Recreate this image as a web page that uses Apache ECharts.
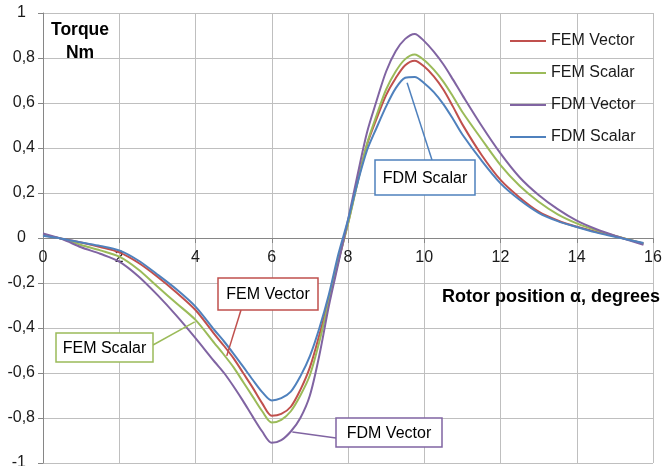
<!DOCTYPE html>
<html>
<head>
<meta charset="utf-8">
<script src="https://cdn.jsdelivr.net/npm/echarts@6/dist/echarts.min.js"></script>
<style>
html,body{margin:0;padding:0;background:#fff;}
#c{width:664px;height:466px;}
</style>
</head>
<body>
<div id="c"></div>
<script>
// Rotor position (degrees)
var positions = [0,0.5,1,1.5,2,2.5,3,3.5,4,4.5,4.75,5,5.25,5.5,5.75,6,6.25,6.5,6.75,7,7.25,7.5,7.75,8,8.25,8.5,8.75,9,9.25,9.5,9.75,10,10.25,10.5,10.75,11,11.5,12,12.5,13,13.5,14,14.5,15,15.75];
// Torque (Nm)
var femVector = [0.012,-0.003,-0.020,-0.040,-0.064,-0.110,-0.172,-0.242,-0.320,-0.428,-0.480,-0.535,-0.600,-0.665,-0.735,-0.790,-0.782,-0.750,-0.675,-0.575,-0.430,-0.270,-0.100,0.065,0.250,0.415,0.530,0.635,0.710,0.768,0.788,0.762,0.718,0.660,0.585,0.505,0.370,0.258,0.180,0.117,0.078,0.050,0.028,0.008,-0.024];
var femScalar = [0.015,-0.004,-0.031,-0.055,-0.083,-0.140,-0.216,-0.290,-0.364,-0.468,-0.520,-0.575,-0.640,-0.705,-0.770,-0.820,-0.808,-0.770,-0.700,-0.610,-0.460,-0.280,-0.100,0.062,0.245,0.420,0.545,0.660,0.740,0.795,0.816,0.790,0.748,0.695,0.630,0.560,0.440,0.324,0.232,0.161,0.105,0.065,0.035,0.010,-0.025];
var fdmVector = [0.020,-0.005,-0.041,-0.070,-0.105,-0.170,-0.253,-0.345,-0.445,-0.550,-0.600,-0.660,-0.725,-0.794,-0.860,-0.910,-0.898,-0.860,-0.800,-0.700,-0.520,-0.300,-0.110,0.080,0.280,0.470,0.610,0.740,0.830,0.885,0.907,0.875,0.828,0.772,0.705,0.635,0.500,0.376,0.270,0.191,0.128,0.077,0.040,0.010,-0.030];
var fdmScalar = [0.010,-0.003,-0.020,-0.035,-0.055,-0.100,-0.162,-0.228,-0.305,-0.410,-0.460,-0.515,-0.572,-0.630,-0.685,-0.722,-0.712,-0.683,-0.615,-0.525,-0.400,-0.250,-0.070,0.080,0.245,0.390,0.490,0.585,0.665,0.712,0.716,0.688,0.648,0.595,0.530,0.460,0.345,0.243,0.170,0.112,0.075,0.049,0.025,0.005,-0.022];

var seriesNames = ['FEM Vector','FEM Scalar','FDM Vector','FDM Scalar'];
var seriesColors = ['#c0504d','#9bbb59','#8064a2','#4f81bd'];
var seriesValues = [femVector, femScalar, fdmVector, fdmScalar];

// Callout labels: [text, box left, box top, box width, box height, attach x, attach y, target x(data), target y(data), series index]
var callouts = [
  ['FDM Scalar', 375, 160, 100, 35, 432, 160, 9.55, 0.69, 3],
  ['FEM Vector', 218, 278, 100, 32, 241, 310, 4.82, -0.524, 0],
  ['FEM Scalar', 56, 333, 97, 29, 153, 345, 3.98, -0.373, 1],
  ['FDM Vector', 336, 418, 106, 29, 336, 438, 6.54, -0.862, 2]
];

var FONT = "'Liberation Sans', Arial, sans-serif";
var chart = echarts.init(document.getElementById('c'));

function pairs(vals){ return positions.map(function(x,i){ return [x, vals[i]]; }); }

var series = seriesNames.map(function(n,i){
  return {
    name: n, type: 'line', data: pairs(seriesValues[i]), smooth: 0.3,
    symbol: 'none', showSymbol: false,
    lineStyle: {color: seriesColors[i], width: 2},
    itemStyle: {color: seriesColors[i]},
    z: 3, animation: false
  };
});

var gridTop = 13, gridBottom = 3, H = 466;
var gridH = H - gridTop - gridBottom;
var yMin = -1, yMax = 1;
var zeroOffset = -gridH * (0 - yMin) / (yMax - yMin);

chart.setOption({
  animation: false,
  backgroundColor: '#fff',
  grid: {left: 43, right: 11, top: gridTop, bottom: gridBottom, containLabel: false, outerBoundsMode: 'none'},
  legend: {
    orient: 'vertical', left: 510, top: 33, padding: 0,
    icon: 'rect', itemWidth: 36, itemHeight: 2, itemGap: 16,
    data: seriesNames,
    textStyle: {fontFamily: FONT, fontSize: 16, color: '#1a1a1a', lineHeight: 16}
  },
  xAxis: {
    type: 'value', min: 0, max: 16, interval: 2, offset: zeroOffset,
    axisLine: {show: true, onZero: false, lineStyle: {color: '#868686', width: 1}},
    axisTick: {show: true, length: 5, lineStyle: {color: '#868686'}},
    axisLabel: {fontFamily: FONT, fontSize: 16, color: '#1a1a1a', margin: 12,
      formatter: function(v){ return String(Math.round(v)); }},
    splitLine: {show: true, lineStyle: {color: '#bfbfbf', width: 1}}
  },
  yAxis: {
    type: 'value', min: yMin, max: yMax, interval: 0.2,
    axisLine: {show: true, onZero: false, lineStyle: {color: '#868686', width: 1}},
    axisTick: {show: true, length: 5, lineStyle: {color: '#868686'}},
    axisLabel: {fontFamily: FONT, fontSize: 16, color: '#1a1a1a', margin: 8,
      formatter: function(v){
        var r = Math.round(v*10)/10;
        if (Math.abs(r) < 1e-9) r = 0;
        var s = String(r).replace('.', ',');
        if (Math.abs(r - Math.round(r)) < 1e-9) return '{i|' + s + '}';
        return s;
      },
      rich: {i: {fontFamily: FONT, fontSize: 16, color: '#1a1a1a', padding: [0, 9, 0, 0]}}
    },
    splitLine: {show: true, lineStyle: {color: '#bfbfbf', width: 1}}
  },
  series: series
});

var g = [];
g.push({type: 'text', x: 80, y: 30, z: 10,
  style: {text: 'Torque', fontFamily: FONT, fontSize: 17.5, fontWeight: 'bold', fill: '#000', align: 'center', verticalAlign: 'middle'}});
g.push({type: 'text', x: 80, y: 53.5, z: 10,
  style: {text: 'Nm', fontFamily: FONT, fontSize: 17.5, fontWeight: 'bold', fill: '#000', align: 'center', verticalAlign: 'middle'}});
g.push({type: 'text', x: 660, y: 297, z: 10,
  style: {text: 'Rotor position \u03b1, degrees', fontFamily: FONT, fontSize: 18, fontWeight: 'bold', fill: '#000', align: 'right', verticalAlign: 'middle'}});

callouts.forEach(function(c){
  var col = seriesColors[c[9]];
  var p = chart.convertToPixel({xAxisIndex: 0, yAxisIndex: 0}, [c[7], c[8]]);
  g.push({type: 'line', z: 11, shape: {x1: c[5], y1: c[6], x2: p[0], y2: p[1]},
    style: {stroke: col, lineWidth: 1.5}});
  g.push({type: 'rect', z: 12, shape: {x: c[1], y: c[2], width: c[3], height: c[4]},
    style: {fill: '#fff', stroke: col, lineWidth: 1.5}});
  g.push({type: 'text', z: 13, x: c[1] + c[3]/2, y: c[2] + c[4]/2 + 1,
    style: {text: c[0], fontFamily: FONT, fontSize: 16, fill: '#000', align: 'center', verticalAlign: 'middle'}});
});

chart.setOption({graphic: g});
</script>
</body>
</html>
